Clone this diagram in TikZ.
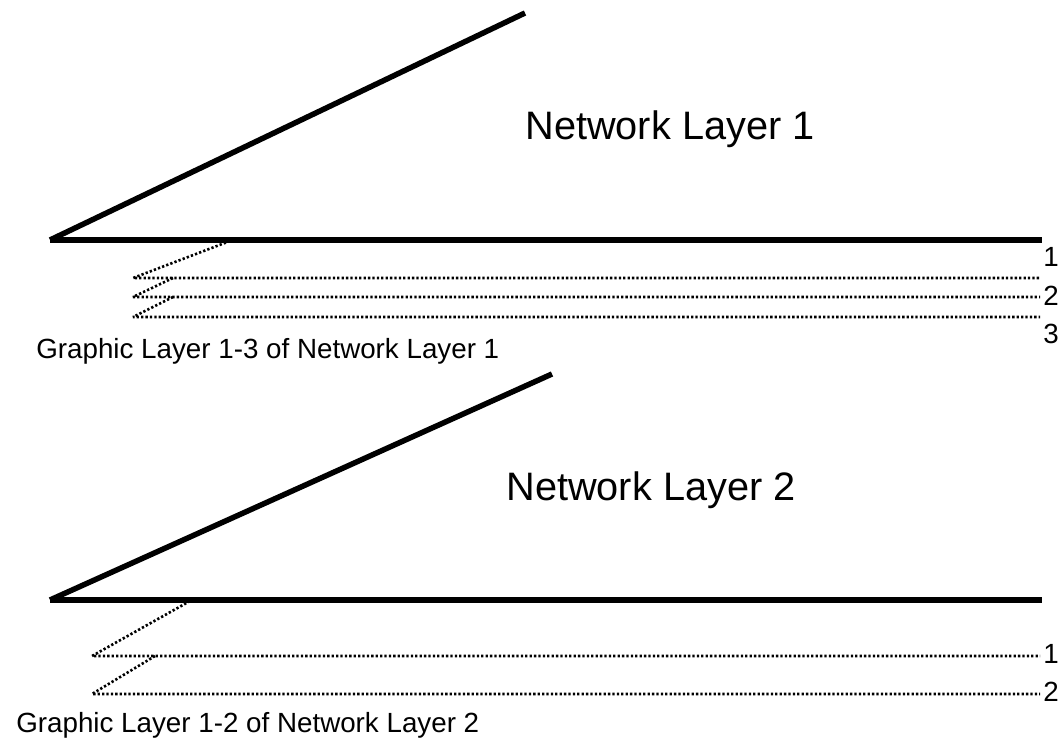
\documentclass[tikz,border=0pt]{standalone}
\usepackage{fontspec}
\setmainfont{Liberation Sans}
\usetikzlibrary{positioning}

\begin{document}
\begin{tikzpicture}[x=0.02cm,y=-0.02cm,font=\fontsize{15.8}{18}\selectfont,
  netline/.style={line width=0.11cm},
  gfxline/.style={line width=0.052cm,line join=bevel,dash pattern=on 0.046cm off 0.042cm},
  netlabel/.style={font=\fontsize{22.6}{26}\selectfont},
  numlabel/.style={anchor=west,inner sep=0pt}]
  \useasboundingbox (0,0) rectangle (1059,742);
  % network layer 1
  \draw[netline] (50,240) -- (525,13);
  \draw[netline] (50,240) -- (1042,240);
  \node[netlabel] (net1) at (670,129) {Network Layer 1};
  \draw[gfxline] (230,241) -- (133,278) -- (1040,278);
  \draw[gfxline] (173,278) -- (133,297) -- (1040,297);
  \draw[gfxline] (173,297) -- (133,317) -- (1040,317);
  \node[numlabel] (n1a) at (1043,257) {1};
  \node[numlabel] (n1b) at (1043,296) {2};
  \node[numlabel] (n1c) at (1043,334) {3};
  \node[anchor=west,inner sep=0pt] (gfx1) at (36,351) {Graphic Layer 1-3 of Network Layer 1};
  % network layer 2
  \draw[netline] (50,600) -- (552,374);
  \draw[netline] (50,600) -- (1042,600);
  \node[netlabel] (net2) at (651,490) {Network Layer 2};
  \draw[gfxline] (190,601) -- (92,656) -- (1040,656);
  \draw[gfxline] (155,656) -- (92,694) -- (1040,694);
  \node[numlabel] (n2a) at (1043,654) {1};
  \node[numlabel] (n2b) at (1043,692) {2};
  \node[anchor=west,inner sep=0pt] (gfx2) at (16,725) {Graphic Layer 1-2 of Network Layer 2};
\end{tikzpicture}
\end{document}
